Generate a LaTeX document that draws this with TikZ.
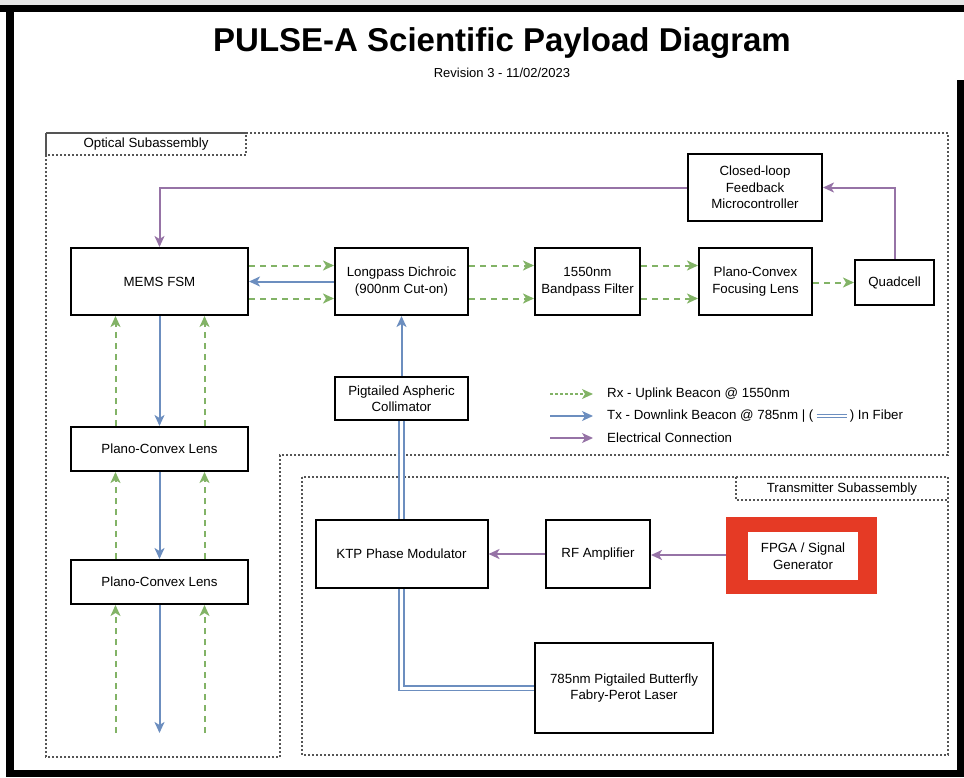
\documentclass[tikz,border=0pt]{standalone}
\usepackage{fontspec}
\setmainfont{Liberation Sans}
\usetikzlibrary{arrows.meta, positioning}
\definecolor{my_green}{HTML}{82B366}
\definecolor{my_blue}{HTML}{6C8EBF}
\definecolor{my_purple}{HTML}{9673A6}
\definecolor{my_red}{HTML}{E53A25}
\definecolor{my_darkgray}{HTML}{555555}
\definecolor{my_lightgray}{HTML}{E6E6E6}

\begin{document}
\begin{tikzpicture}[
    x=1pt, y=-1pt,
    font=\fontsize{13.3}{16.5}\selectfont,
    block/.style={draw=black, line width=2pt, fill=white, align=center, inner sep=0pt},
    headarrow/.style={-{Stealth[length=11pt, width=10pt, inset=3pt]}},
    rx/.style={headarrow, draw=my_green, line width=2pt, dash pattern=on 6pt off 5pt},
    tx/.style={headarrow, draw=my_blue, line width=2pt},
    elec/.style={headarrow, draw=my_purple, line width=2pt},
    fiber/.style={draw=my_blue, line width=1.6pt, double=white, double distance=3pt},
    subassy/.style={draw=my_darkgray, line width=1.4pt, dash pattern=on 2pt off 2pt}
]
\useasboundingbox (0,0) rectangle (964,777);

%% ================================================================
%% Rahmen des Screenshots
%% ================================================================
\fill[my_lightgray] (0,0) rectangle (964,5);
\fill[black] (0,5) rectangle (964,12);
\fill[black] (6,5) rectangle (14,777);
\fill[black] (6,770) rectangle (964,777);
\fill[black] (957,80) rectangle (964,777);

%% --- Titel ---
\node[font=\fontsize{33}{36}\selectfont\bfseries, anchor=base] (title)
    at (502,51) {PULSE-A Scientific Payload Diagram};
\node[font=\fontsize{13}{14}\selectfont, anchor=base] (rev)
    at (502,77) {Revision 3 - 11/02/2023};

%% ================================================================
%% Baugruppen (gepunktete Rahmen)
%% ================================================================
\draw[subassy] (46,133) -- (948,133) -- (948,455) -- (280,455)
    -- (280,757) -- (46,757) -- cycle;
\draw[subassy] (46,133) rectangle (246,155);
\node (optlabel) at (146,144) {Optical Subassembly};

\draw[subassy] (302,477) rectangle (948,755);
\draw[subassy] (736,477) rectangle (948,500);
\node (txlabel) at (842,489) {Transmitter Subassembly};

%% ================================================================
%% Optische Bloecke
%% ================================================================
\node[block, minimum width=177pt, minimum height=67pt] (mems) at (159.5,281.5) {MEMS FSM};
\node[block, minimum width=133pt, minimum height=67pt] (dichroic) at (401.5,281.5)
    {Longpass Dichroic\\(900nm Cut-on)};
\node[block, minimum width=105pt, minimum height=67pt] (bandpass) at (587.5,281.5)
    {1550nm\\Bandpass Filter};
\node[block, minimum width=113pt, minimum height=67pt] (focus) at (755.5,281.5)
    {Plano-Convex\\Focusing Lens};
\node[block, minimum width=79pt, minimum height=45pt] (quad) at (894.5,282.5) {Quadcell};
\node[block, minimum width=134pt, minimum height=67pt] (ctrl) at (755,187.5)
    {Closed-loop\\Feedback\\Microcontroller};
\node[block, minimum width=133pt, minimum height=43pt] (colli) at (401.5,398.5)
    {Pigtailed Aspheric\\Collimator};
\node[block, minimum width=177pt, minimum height=44pt] (lensA) at (159.5,449) {Plano-Convex Lens};
\node[block, minimum width=177pt, minimum height=44pt] (lensB) at (159.5,582) {Plano-Convex Lens};

%% ================================================================
%% Sender-Bloecke
%% ================================================================
\node[block, minimum width=172pt, minimum height=68pt] (ktp) at (401.5,554) {KTP Phase Modulator};
\node[block, minimum width=104pt, minimum height=68pt] (rfamp) at (598,554) {RF Amplifier};
\node[block, minimum width=178pt, minimum height=90pt] (laser) at (624,688)
    {785nm Pigtailed Butterfly\\Fabry-Perot Laser};

%% --- Elektrische Verbindungen im Sender ---
\coordinate (fpgaedge) at (726,555);
\draw[elec] (fpgaedge) -- (rfamp.east |- fpgaedge);
\draw[elec] (rfamp.west) -- (ktp.east);

%% --- Markierung FPGA (roter Rahmen) ---
\fill[my_red] (726,517) rectangle (877,594);
\node[fill=white, align=center, inner sep=0pt, minimum width=110pt, minimum height=48pt]
    (fpga) at (803,556) {FPGA / Signal\\Generator};

%% ================================================================
%% Rx-Strahl (gestrichelt, gruen)
%% ================================================================
\foreach \s in {16,-17} {
    \draw[rx] ([yshift=\s pt]mems.east) -- ([yshift=\s pt]dichroic.west);
    \draw[rx] ([yshift=\s pt]dichroic.east) -- ([yshift=\s pt]bandpass.west);
    \draw[rx] ([yshift=\s pt]bandpass.east) -- ([yshift=\s pt]focus.west);
}
\draw[rx] (focus.east |- quad.west) -- (quad.west);

\coordinate (outC) at (159.5,733);
\coordinate (outL) at (115.5,733);
\coordinate (outR) at (204.5,733);
\foreach \s in {-44,45} {
    \draw[rx] ([xshift=\s pt]lensA.north) -- ([xshift=\s pt]mems.south);
    \draw[rx] ([xshift=\s pt]lensB.north) -- ([xshift=\s pt]lensA.south);
}
\draw[rx] (outL) -- (outL |- lensB.south);
\draw[rx] (outR) -- (outR |- lensB.south);

%% ================================================================
%% Tx-Strahl (blau) und Faser
%% ================================================================
\draw[tx] (dichroic.west) -- (mems.east);
\draw[tx] (mems.south) -- (lensA.north);
\draw[tx] (lensA.south) -- (lensB.north);
\draw[tx] (lensB.south) -- (outC);
\draw[tx] (colli.north) -- (dichroic.south);
\draw[fiber] (ktp.north) -- (colli.south);
\draw[fiber] (ktp.south) |- (laser.west);

%% ================================================================
%% Regelkreis (elektrisch, violett)
%% ================================================================
\draw[elec] (quad.north) |- (ctrl.east);
\draw[elec] (ctrl.west) -| (mems.north);

%% ================================================================
%% Legende
%% ================================================================
\coordinate (legRxA) at (550,394);
\coordinate (legRxB) at (593,394);
\coordinate (legTxA) at (550,416);
\coordinate (legTxB) at (593,416);
\coordinate (legElA) at (550,438);
\coordinate (legElB) at (593,438);
\draw[rx, line width=1.4pt, dash pattern=on 2.5pt off 2.5pt] (legRxA) -- (legRxB);
\draw[tx, line width=1.4pt] (legTxA) -- (legTxB);
\draw[elec, line width=1.4pt] (legElA) -- (legElB);
\node[anchor=west, inner sep=0pt] (legrx) at (607,394) {Rx - Uplink Beacon @ 1550nm};
\node[anchor=west, inner sep=0pt] (legtx) at (607,416) {Tx - Downlink Beacon @ 785nm | (};
\node[anchor=west, inner sep=0pt] (legfib) at ([xshift=36pt]legtx.east) {) In Fiber};
\draw[fiber, line width=1.2pt, double distance=2.5pt] ([xshift=3pt]legtx.east) -- ([xshift=-3pt]legfib.west);
\node[anchor=west, inner sep=0pt] (legel) at (607,438) {Electrical Connection};

\end{tikzpicture}
\end{document}
